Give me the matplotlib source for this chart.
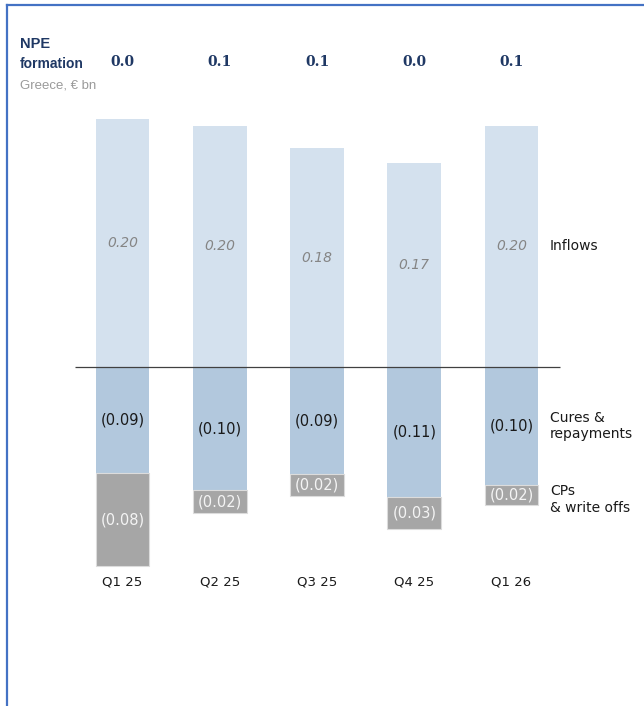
import numpy as np
import matplotlib.pyplot as plt
from matplotlib.lines import Line2D

quarters = ['Q1 25', 'Q2 25', 'Q3 25', 'Q4 25', 'Q1 26']
inflows = [0.202, 0.196, 0.178, 0.166, 0.196]
cures = [0.086, 0.100, 0.087, 0.106, 0.096]
cps = [0.076, 0.019, 0.018, 0.026, 0.016]

inflows = np.array(inflows)
cures = np.array(cures)
cps = np.array(cps)
net = inflows - cures - cps

W, H = 644, 706
fig = plt.figure(figsize=(W / 100, H / 100), dpi=100)
ax = fig.add_axes([0, 0, 1, 1])
ax.set_xlim(-122.5 / 97.25, (W - 122.5) / 97.25)
ax.set_ylim(-(H - 367) / 1230, 367 / 1230)
ax.axis('off')

x = np.arange(len(quarters))
bw = 0.555
ax.bar(x, inflows, bw, color='#d4e1ee', edgecolor='none')
ax.bar(x, -cures, bw, color='#b2c8dd', edgecolor='none')
ax.bar(x, -cps, bw, bottom=-cures, color='#a6a6a6', edgecolor='#dcdcdc', lw=0.8)
ax.hlines(0, -0.49, 4.5, color='#404040', lw=0.9, zorder=3)

sans = 'DejaVu Sans'
for i in x:
    ax.text(i, inflows[i] / 2, f'{inflows[i]:.2f}', ha='center', va='center',
            fontsize=10, style='italic', color='#858585', family=sans)
    ax.text(i, -cures[i] / 2, f'({cures[i]:.2f})', ha='center', va='center',
            fontsize=10.5, color='#1a1a1a', family=sans)
    ax.text(i, -cures[i] - cps[i] / 2, f'({cps[i]:.2f})', ha='center', va='center',
            fontsize=10.5, color='#f4f4f4', family=sans)
    ax.text(i, -0.1748, quarters[i], ha='center', va='center',
            fontsize=9.5, color='#1a1a1a', family=sans)
    ax.text(i, 0.248, f'{net[i]:.1f}', ha='center', va='center',
            fontsize=10, fontweight='bold', color='#1f3864', family='DejaVu Serif')

# series labels on the right
lx = 4.396
ax.text(lx, inflows[-1] / 2, 'Inflows', ha='left', va='center',
        fontsize=10, color='#1a1a1a', family=sans)
ax.text(lx, -cures[-1] / 2, 'Cures &\nrepayments', ha='left', va='center',
        fontsize=10, color='#1a1a1a', family=sans, linespacing=1.25)
ax.text(lx, -cures[-1] - cps[-1] / 2 - 0.004, 'CPs\n& write offs', ha='left', va='center',
        fontsize=10, color='#1a1a1a', family=sans, linespacing=1.25)

# title block
head = ['Liberation Sans', 'DejaVu Sans']
fig.text(20 / W, 1 - 44 / H, 'NPE', ha='left', va='center', fontsize=10.5,
         fontweight='bold', color='#1f3864', family=head)
fig.text(20 / W, 1 - 64 / H, 'formation', ha='left', va='center', fontsize=10,
         fontweight='bold', color='#1f3864', family=head)
fig.text(20 / W, 1 - 85 / H, 'Greece, € bn', ha='left', va='center', fontsize=9.5,
         color='#9a9a9a', family=head)

# frame
blue = '#4472c4'
fig.add_artist(Line2D([6.5 / W, 1], [1 - 5 / H, 1 - 5 / H], color=blue, lw=1.6,
                      transform=fig.transFigure))
fig.add_artist(Line2D([6.5 / W, 6.5 / W], [0, 1 - 5 / H], color=blue, lw=1.6,
                      transform=fig.transFigure))

fig.savefig('out.png', dpi=100)
